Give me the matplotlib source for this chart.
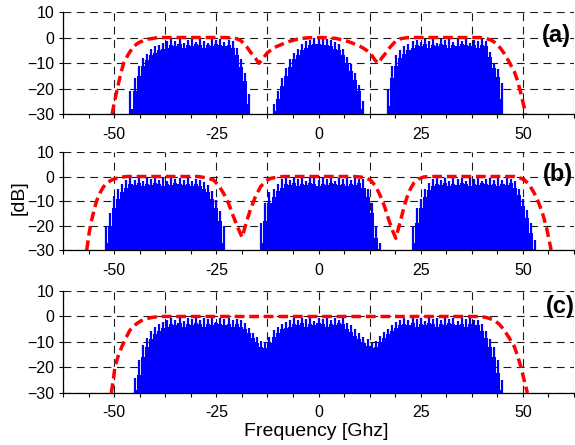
import numpy as np
import matplotlib
matplotlib.use('Agg')
import matplotlib.pyplot as plt
from matplotlib import font_manager
from matplotlib.ticker import MultipleLocator, FuncFormatter

# ---- blue spectra: comb lines every 1 GHz, peak level and fill level [dB]
# panel (a)
a_left_start = -46
a_left_peak = [-21, -16, -11, -8, -6.5, -4.5, -3.5, -2.8, -2.2, -1.2,
               -0.6, -1.5, -0.7, -2.0, -0.9, -0.5, -1.7, -0.7, -1.2, -2.3,
               -0.6, -1.0, -0.5, -1.6, -0.9, -1.4, -4, -8.5, -14, -22]
a_left_base = [-28, -21, -15, -11, -9, -7, -6, -5, -4.5, -4,
               -3, -3.5, -2.5, -4, -3, -3.5, -2.5, -3, -4, -3,
               -3.5, -2.5, -3, -3.5, -3, -4, -7, -11.5, -17, -26]
a_mid_start = -11
a_mid_peak = [-26, -21, -16, -12, -8.5, -6, -4.5, -2.5, -1.5, -0.8, -0.3, -0.2,
              -0.5, -0.4, -1.0, -1.8, -2.5, -4.5, -7.5, -10.5, -14, -18.5, -25]
a_mid_base = [-29, -24, -19, -15, -11.5, -8.5, -7, -5, -4, -3, -2.5, -2.5,
              -3, -3, -3.5, -4.5, -5, -7, -10, -13, -16.5, -21, -28]
a_right_start = 17
a_right_peak = [-20, -11, -7, -5, -3.5, -2.5, -1.5,
                -0.8, -1.6, -0.5, -1.2, -0.7, -2.1, -0.6, -1.0, -0.5, -1.8,
                -0.7, -1.3, -0.6, -2.0, -0.9, -1.5, -0.7, -1.4,
                -5.6, -10, -12.5, -18]
a_right_base = [-27, -16, -11, -8, -6.5, -5, -4,
                -3, -3.5, -2.5, -4, -3, -3.5, -2.5, -3, -4, -3,
                -3.5, -2.5, -3, -3.5, -3, -4, -3, -3.5,
                -7.5, -12, -15.5, -24]

# panel (b)
b_left_start = -52
b_left_peak = [-20, -15, -8, -5, -3, -1.5,
               -0.8, -1.4, -0.6, -1.9, -0.7, -1.1, -0.5, -1.6, -0.8, -2.0,
               -0.6, -1.2, -0.7, -1.5, -0.6, -1.8, -0.9,
               -1.4, -2.2, -3.5, -6, -9.5, -14, -20]
b_left_base = [-27, -20, -13, -9, -6.5, -4.5,
               -3, -3.5, -2.5, -4, -3, -3.5, -2.5, -3, -4, -3,
               -3.5, -2.5, -3, -3.5, -3, -4, -3,
               -4, -5, -6.5, -9, -13, -18, -27]
b_mid_start = -14
b_mid_peak = [-19, -11, -6.5, -5, -3, -1.2,
              -0.7, -1.5, -0.5, -1.2, -0.6, -2.0, -0.8, -0.5, -1.4, -0.6,
              -1.0, -0.5, -1.8, -0.7, -1.2, -0.5, -1.6, -0.8, -1.1,
              -1.2, -5, -11, -20, -27]
b_mid_base = [-27, -18, -11, -8.5, -6, -4.5,
              -3, -3.5, -2.5, -4, -3, -3.5, -2.5, -3, -4, -3,
              -3.5, -2.5, -3, -3.5, -3, -4, -3, -3.5, -2.5,
              -4.5, -8.5, -15, -25, -29.5]
b_right_start = 23
b_right_peak = [-20, -13, -9, -5, -2.5, -1.2,
                -0.6, -1.4, -0.7, -2.0, -0.5, -1.1, -0.8, -1.7, -0.6, -1.2,
                -0.5, -1.9, -0.9, -0.6, -1.3, -0.7, -1.5, -0.8, -1.1,
                -2, -5, -9, -13.5, -19, -26]
b_right_base = [-27, -19, -13, -8.5, -5.5, -4,
                -3, -3.5, -2.5, -4, -3, -3.5, -2.5, -3, -4, -3,
                -3.5, -2.5, -3, -3.5, -3, -4, -3, -3.5, -2.5,
                -4.5, -7.5, -12, -17, -23, -29.5]

# panel (c)
c_start = -45
c_peak = [-24, -17, -11, -8.5, -5.5, -4, -3, -2, -1.3,
          -0.6, -1.2, -0.5, -1.8, -0.7, -0.9, -0.4, -1.5, -0.6, -1.1,
          -0.5, -2.0, -0.7, -0.9, -0.5, -1.4, -0.8,
          -1.5, -2.6, -4.5, -6.5, -8, -9.5, -10, -8, -5.3, -4, -3, -2, -1.5,
          -0.6, -1.3, -0.5, -1.0, -0.4, -1.6, -0.5, -0.8, -0.4, -1.2, -0.6,
          -1.5, -0.7,
          -2.6, -3.5, -5, -6.5, -8, -9, -10.4, -9.5, -7.5, -6, -5, -3.5, -2,
          -1.2,
          -0.5, -1.3, -0.6, -1.0, -0.4, -1.7, -0.5, -0.9, -0.6, -1.4,
          -0.5, -1.1, -0.4, -1.8, -0.7, -1.0, -0.6, -1.5, -1.2,
          -3, -5.5, -9, -12, -17, -25]
c_base = [-29, -23, -16, -12, -9, -7, -5.5, -4.5, -4,
          -3, -3.5, -2.5, -4, -3, -3.5, -2.5, -3, -4, -3,
          -3.5, -2.5, -3, -3.5, -3, -4, -3,
          -4, -5, -6.5, -8.5, -10.5, -12, -12.5, -10.5, -8, -6.5, -5, -4.5, -4,
          -3, -3.5, -2.5, -4, -3, -3.5, -2.5, -3, -4, -3, -3.5,
          -2.5, -3,
          -5, -6, -7.5, -9, -10.5, -11.5, -12.5, -12, -10, -8.5, -7, -5.5,
          -4.5, -3.5,
          -3, -3.5, -2.5, -4, -3, -3.5, -2.5, -3, -4, -3,
          -3.5, -2.5, -3, -3.5, -3, -4, -3, -3.5, -3.5,
          -5.5, -8.5, -12, -16, -22, -29]

# ---- red dashed filter responses (frequency [GHz], dB)
red_a = [(-50.5, -30), (-50.0, -26), (-49.3, -20.6), (-48.5, -15), (-47.7, -10.1),
         (-46.5, -6.5), (-45.3, -3.6), (-44.0, -2.0), (-42.0, -0.7), (-40.0, -0.2),
         (-38.5, 0), (-23.0, 0), (-21.5, -0.1), (-20.0, -0.5), (-19.0, -1.2),
         (-18.3, -2.4), (-17.5, -3.8), (-16.7, -5.6), (-16.0, -7.0), (-15.4, -8.2),
         (-14.6, -10.1), (-13.8, -8.8), (-13.2, -7.4), (-12.6, -6.1), (-11.8, -5.1),
         (-11.0, -4.2), (-10.2, -3.5), (-9.3, -2.9), (-8.3, -2.2), (-7.3, -1.6),
         (-6.0, -1.0), (-4.4, -0.4), (-2.5, -0.1), (0, 0), (2.5, -0.1), (4.4, -0.4),
         (6.0, -1.0), (7.3, -1.6), (8.3, -2.2), (9.3, -2.9), (10.2, -3.5),
         (11.0, -4.2), (11.8, -5.1), (12.6, -6.1), (13.2, -7.4), (13.8, -8.8),
         (14.6, -10.1), (15.4, -8.2), (16.0, -7.0), (16.7, -5.6), (17.5, -3.8),
         (18.3, -2.4), (19.0, -1.2), (20.0, -0.5), (21.5, -0.1), (23.0, 0),
         (39.5, 0), (41.0, -0.4), (42.2, -1.0), (43.0, -1.8), (43.8, -2.9),
         (44.6, -4.4), (45.4, -6.2), (46.6, -9.5), (47.9, -13.4), (48.7, -17.0),
         (49.5, -21.9), (50.1, -26), (50.7, -30)]
red_b = [(-56.7, -30), (-56.1, -23), (-55.5, -17.8), (-54.8, -13), (-54.2, -9.6),
         (-53.4, -6.5), (-52.6, -4.2), (-51.5, -2.3), (-50.2, -1.1), (-48.5, -0.3),
         (-46.9, 0), (-29.5, 0), (-27.5, -0.5), (-25.7, -1.4), (-24.5, -3.5),
         (-23.2, -6.9), (-22.0, -11), (-20.8, -16.4), (-19.7, -21), (-18.7, -24.8),
         (-17.7, -19), (-16.7, -13.7), (-15.5, -8.5), (-14.2, -4.2), (-13.0, -2.0),
         (-11.8, -0.8), (-10.0, -0.2), (-8.6, 0), (8.6, 0), (10.3, -0.2),
         (11.5, -0.6), (12.7, -1.4), (14.0, -4.0), (15.2, -8.2), (16.2, -12.5),
         (17.2, -17.8), (18.1, -22), (18.9, -25.2), (19.5, -21.5), (20.1, -17.8),
         (20.9, -12.5), (21.7, -8.2), (22.5, -5.0), (23.3, -2.7), (24.5, -1.0),
         (25.7, -0.2), (27.0, 0), (47.9, 0), (49.0, -0.4), (50.4, -1.4),
         (51.6, -3.5), (52.8, -6.9), (53.8, -10.5), (54.8, -15), (55.8, -21),
         (56.9, -30)]
red_c = [(-50.7, -30), (-50.2, -25), (-49.8, -19.7), (-49.0, -15.5), (-48.1, -11.8),
         (-47.1, -8.3), (-46.1, -5.3), (-44.5, -2.8), (-42.8, -1.1), (-40.5, -0.3),
         (-38.7, 0), (39.7, 0), (41.3, -0.5), (42.9, -1.4), (44.2, -3.0),
         (45.4, -5.3), (46.6, -8.3), (47.9, -11.8), (48.7, -15.5), (49.5, -19.7),
         (50.3, -25), (51.1, -30)]

panel_labels = ['(a)', '(b)', '(c)']
xtick_step = 12.5
yticks = [-30, -20, -10, 0, 10]

names = {f.name for f in font_manager.fontManager.ttflist}
tick_font = 'Liberation Sans Narrow' if 'Liberation Sans Narrow' in names else 'Liberation Sans'
tick_size = 12.5 if tick_font == 'Liberation Sans Narrow' else 11.5
plt.rcParams['font.family'] = ['Liberation Sans', 'DejaVu Sans']

BLUE = '#0000ff'
RED = '#ff0000'


def draw_band(ax, start, peak, base):
    f = start + np.arange(len(peak))
    ax.fill_between(f, -30, base, step='mid', color=BLUE, lw=0)
    ax.vlines(f, -30, peak, color=BLUE, lw=1.6)


def style_axes(ax):
    ax.set_xlim(-62.5, 62.5)
    ax.set_ylim(-30, 10)
    ax.xaxis.set_major_locator(MultipleLocator(xtick_step))
    ax.xaxis.set_minor_locator(MultipleLocator(xtick_step / 2))
    ax.xaxis.set_major_formatter(
        FuncFormatter(lambda v, p: f'{v:.0f}' if abs(v % 25) < 1e-6 else ''))
    ax.set_yticks(yticks)
    ax.tick_params(which='both', direction='out', length=3, width=0.8,
                   labelsize=tick_size, pad=3)
    ax.tick_params(axis='x', which='major', pad=6)
    for lab in ax.get_xticklabels() + ax.get_yticklabels():
        lab.set_family(tick_font)
    ax.grid(True, which='major', color='0.1', linestyle=(0, (7, 5)), linewidth=0.8)
    ax.set_axisbelow(True)
    for s in ['top', 'right']:
        ax.spines[s].set_visible(False)
    for s in ['left', 'bottom']:
        ax.spines[s].set_linewidth(0.9)


fig = plt.figure(figsize=(5.75, 4.45), dpi=100)
left, width = 0.1096, 0.8887
boxes = [(0.7438, 0.2292), (0.4382, 0.2202), (0.1169, 0.2292)]
axes = [fig.add_axes([left, b, width, h]) for b, h in boxes]

panel_bands = [
    [(a_left_start, a_left_peak, a_left_base), (a_mid_start, a_mid_peak, a_mid_base),
     (a_right_start, a_right_peak, a_right_base)],
    [(b_left_start, b_left_peak, b_left_base), (b_mid_start, b_mid_peak, b_mid_base),
     (b_right_start, b_right_peak, b_right_base)],
    [(c_start, c_peak, c_base)],
]
reds = [red_a, red_b, red_c]

for ax, bands, red in zip(axes, panel_bands, reds):
    for start, peak, base in bands:
        draw_band(ax, start, peak, base)
    rf, rdb = np.array(red).T
    ax.plot(rf, rdb, color=RED, lw=2.5, linestyle=(0, (2.8, 1.4)))
    style_axes(ax)

label_pos = [(0.992, 0.921), (0.997, 0.607), (0.999, 0.312)]
for (x, y), lab in zip(label_pos, panel_labels):
    fig.text(x, y, lab, ha='right', va='center', fontsize=17, fontweight='bold')

fig.text(0.033, 0.557, '[dB]', rotation=90, ha='center', va='center', fontsize=14)
fig.text(0.55, 0.031, 'Frequency [Ghz]', ha='center', va='center', fontsize=14)

fig.savefig('out.png', dpi=100)
